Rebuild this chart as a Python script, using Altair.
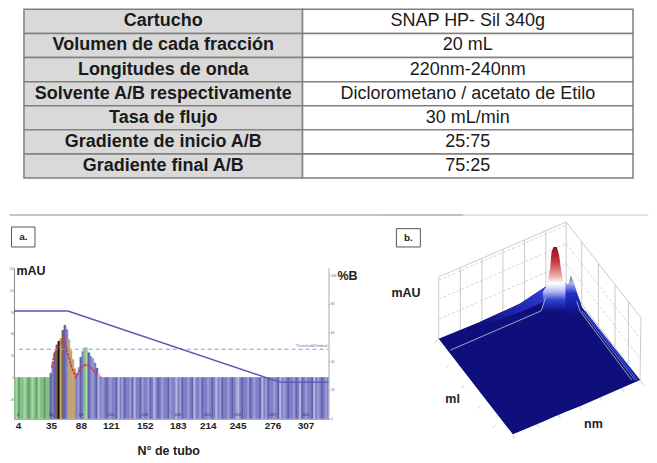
import altair as alt
import pandas as pd

FONT = "Liberation Sans"

# ---------- table ----------
row_labels = ["Cartucho", "Volumen de cada fracción", "Longitudes de onda",
              "Solvente A/B respectivamente", "Tasa de flujo",
              "Gradiente de inicio A/B", "Gradiente final A/B"]
row_values = ["SNAP HP- Sil 340g", "20 mL", "220nm-240nm",
              "Diclorometano / acetato de Etilo", "30 mL/min", "25:75", "75:25"]

# ---------- panel a ----------
signal_head = [0]*18 + [6, 20, 35, 45, 50, 54, 65, 72, 66, 52, 37, 25, 12, 6, 14, 28,
                        36, 41, 41, 34, 29, 26, 20, 13, 5, 1]
stripes = ("gldgglgdglgdlggdgg" "abanktnabtotobcabgl"
           "abcbaebcbabcbbaebcabbcaebbacbbcabebabcbbacbbebcabbcbaebbcabb"
           "cbabebcabbcbabcebabbcabcbbaebcabbcbaebcbabbcabe" "abcbbaebcbabcb")
STRIPE_COLORS = {"g": "#86c088", "l": "#a9d6a2", "d": "#5f9f6c",
                 "b": "#7e7ec6", "c": "#9a9ad6", "a": "#6262aa", "e": "#b6b6e2",
                 "k": "#111111", "t": "#b9a97a", "o": "#c99a6a", "n": "#7a6048"}
tick_pos = [4, 37, 67, 97, 131, 164, 194, 224, 259, 292]
tick_lab = ["4", "35", "88", "121", "152", "183", "214", "245", "276", "307"]
inner_lab = ["3", "36", "69", "102", "135", "168", "201", "234", "267", "300"]
red_x = [38, 40, 44, 50, 53, 58, 62, 67, 72, 77, 83]
red_y = [13, 31, 42, 54, 36, 13, 0, 13, 18, 14, 4]
grad_x = [0, 54, 255, 267, 315]
grad_b = [75, 75, 28, 25.5, 25.5]
threshold = 39
Y_DOM = [-56.7, 151]
B_DOM = [0, 105]
X_DOM = [0, 315]

n = 158
signal = signal_head + [0] * (n - len(signal_head))
bars = pd.DataFrame({"x": [2 * i for i in range(n)], "x2": [2 * i + 2 for i in range(n)],
                     "base": [Y_DOM[0]] * n, "s": signal, "c": list(stripes[:n])})

xs = alt.Scale(domain=X_DOM, nice=False, zero=False)
ys = alt.Scale(domain=Y_DOM, nice=False, zero=False)
bs = alt.Scale(domain=B_DOM, nice=False, zero=False)
one = pd.DataFrame({"t": [""]})

label_expr = "{" + ",".join(f"{p}:'{l}'" for p, l in zip(tick_pos, tick_lab)) + "}[datum.value]"
x_axis = alt.Axis(values=tick_pos, labelExpr=label_expr, title=None, grid=False,
                  labelFont=FONT, labelFontWeight="bold", labelFontSize=10, labelColor="#222222",
                  labelPadding=2, tickSize=0, domainColor="#888888", labelFlush=False,
                  labelOverlap=False)
left_axis = alt.Axis(values=[-30, 0, 30, 60, 90, 120, 150], title=None, grid=False, labelFont=FONT,
                     labelFontSize=2.8, labelColor="#666666", labelPadding=0, tickSize=0.5,
                     tickColor="#999999", domainColor="#888888")
right_axis = alt.Axis(values=[0, 20, 40, 60, 80, 100], orient="right", title=None, grid=False,
                      labelFont=FONT, labelFontSize=3.2, labelColor="#666666", labelPadding=1,
                      tickSize=1, tickColor="#999999", domainColor="#aaaaaa")


def note(text, x, y, size=12, weight="bold", color="#222222"):
    return alt.Chart(pd.DataFrame({"t": [text]})).mark_text(
        font=FONT, fontSize=size, fontWeight=weight, color=color).encode(
        x=alt.value(x), y=alt.value(y), text="t:N")


stripe_scale = alt.Scale(domain=list(STRIPE_COLORS), range=list(STRIPE_COLORS.values()))
bar_layer = alt.Chart(bars).mark_rect(strokeWidth=0.6, clip=True).encode(
    x=alt.X("x:Q", scale=xs, axis=x_axis), x2="x2:Q",
    y=alt.Y("base:Q", scale=ys, axis=left_axis), y2="s:Q",
    fill=alt.Fill("c:N", legend=None, scale=stripe_scale),
    stroke=alt.Stroke("c:N", legend=None, scale=stripe_scale))

thr_layer = alt.Chart(pd.DataFrame({"a": [5], "b": [315], "y": [threshold]})).mark_rule(
    color="#9a93cf", strokeDash=[4, 3], strokeWidth=1).encode(
    x=alt.X("a:Q", scale=xs, axis=x_axis), x2="b:Q", y=alt.Y("y:Q", scale=ys, axis=None))

red_layer = alt.Chart(pd.DataFrame({"x": red_x, "y": red_y})).mark_line(
    color="#d9323a", strokeWidth=1.6, strokeDash=[3, 1]).encode(
    x=alt.X("x:Q", scale=xs, axis=x_axis), y=alt.Y("y:Q", scale=ys, axis=None))

inner_layer = alt.Chart(pd.DataFrame({"x": tick_pos, "y": [-52] * 10, "t": inner_lab})).mark_text(
    font=FONT, fontSize=4, color="#33334d").encode(
    x=alt.X("x:Q", scale=xs, axis=x_axis), y=alt.Y("y:Q", scale=ys, axis=None), text="t:N")

thr_text = alt.Chart(pd.DataFrame({"x": [314], "y": [threshold + 1.5], "t": ["Threshold/Umbral"]})).mark_text(
    font=FONT, fontSize=4, color="#6a6ac0", align="right", baseline="bottom").encode(
    x=alt.X("x:Q", scale=xs, axis=x_axis), y=alt.Y("y:Q", scale=ys, axis=None), text="t:N")

grad_layer = alt.Chart(pd.DataFrame({"x": grad_x, "b": grad_b})).mark_line(
    color="#5656b8", strokeWidth=1.4).encode(
    x=alt.X("x:Q", scale=xs, axis=x_axis), y=alt.Y("b:Q", scale=bs, axis=right_axis))

frame_a = alt.Chart(one).mark_rule(color="#8a8a8a", strokeWidth=1).encode(
    x=alt.value(-4.5), x2=alt.value(450), y=alt.value(-53))
box_a = alt.Chart(one).mark_rect(fill="white", stroke="#555555", strokeWidth=1).encode(
    x=alt.value(-2.5), x2=alt.value(21), y=alt.value(-41), y2=alt.value(-21))

panel_a = alt.layer(
    bar_layer, thr_layer, red_layer, inner_layer, thr_text, grad_layer, frame_a, box_a,
    note("a.", 9.5, -31, 10), note("mAU", 17, 3, 12.5), note("%B", 334, 8, 12.5),
    note("N° de tubo", 155, 183, 12.5),
).resolve_scale(y="independent").properties(width=315, height=151)

# ---------- panel b: surface outline ----------
U = alt.Scale(domain=[30, 780], nice=False, zero=False)
V = alt.Scale(domain=[621, 168], nice=False, zero=False)

floor_u = [175, 300, 398, 420, 495, 520, 556, 590, 605, 780]
floor_top = [381, 330, 285, 275, 225, 215, 215, 250, 285, 505]
floor_low = [381, 542, 668, 659, 627, 616, 601, 587, 581, 505]

wedge_u = [300, 420, 495]
wedge_top = [330, 275, 225]
wedge_low = [345, 300, 268]

peak_u = [488, 500, 510, 514, 520, 530, 537, 543, 550, 558]
peak_top = [240, 220, 170, 120, 105, 105, 130, 175, 212, 218]
peak_low = [300] * 10

small_u = [556, 565, 572, 580, 590, 600, 606]
small_top = [218, 215, 190, 208, 240, 268, 288]
small_low = [310] * 7

wire = [  # u1, v1, u2, v2, dashed
    (175, 195, 558, 30, 0), (175, 195, 175, 381, 0), (558, 30, 558, 215, 0),
    (240, 167, 240, 353, 0), (305, 139, 305, 325, 0), (368, 112, 368, 298, 0),
    (433, 84, 433, 270, 0), (497, 56, 497, 242, 0),
    (175, 205, 558, 40, 1), (175, 262, 558, 95, 1), (175, 322, 558, 155, 1),
    (558, 30, 783, 318, 0), (783, 318, 780, 505, 0), (558, 215, 780, 505, 0),
    (605, 90, 605, 277, 0), (655, 155, 655, 340, 0), (705, 219, 705, 405, 0), (745, 270, 745, 455, 0),
    (558, 95, 783, 383, 1), (558, 155, 783, 443, 1),
    (175, 381, 162, 395, 0), (205, 459, 196, 468, 0), (252, 520, 243, 529, 0), (300, 581, 291, 590, 0),
    (346, 640, 337, 649, 0), (398, 668, 402, 680, 0),
    (470, 637, 476, 648, 0), (535, 609, 541, 620, 0), (597, 583, 603, 594, 0), (660, 556, 666, 567, 0),
    (725, 529, 731, 540, 0), (780, 505, 790, 520, 0),
    (0, 9, 805, 9, 0),
]
wire_df = pd.DataFrame(wire, columns=["u", "v", "u2", "v2", "dash"])

seams = [  # u1, v1, u2, v2, colour, width
    (210, 415, 483, 297, "#a8bccc", 0.9), (483, 297, 497, 255, "#a8bccc", 0.9),
    (590, 268, 600, 298, "#9fc0b0", 0.9), (600, 298, 755, 505, "#9fb8b0", 0.9),
    (605, 296, 765, 505, "#aab0e0", 0.7), (614, 298, 772, 505, "#2e46e8", 1.6),
]
seam_df = pd.DataFrame(seams, columns=["u", "v", "u2", "v2", "c", "w"])


def surface(us, tops, lows, color):
    return alt.Chart(pd.DataFrame({"u": us, "t": tops, "l": lows})).mark_area(color=color, line=False).encode(
        x=alt.X("u:Q", scale=U, axis=None), y=alt.Y("t:Q", scale=V, axis=None), y2="l:Q")


wire_solid = alt.Chart(wire_df[wire_df.dash == 0]).mark_rule(color="#bdbdbd", strokeWidth=0.8).encode(
    x=alt.X("u:Q", scale=U, axis=None), x2="u2:Q", y=alt.Y("v:Q", scale=V, axis=None), y2="v2:Q")
wire_dash = alt.Chart(wire_df[wire_df.dash == 1]).mark_rule(color="#c4c4c4", strokeWidth=0.7, strokeDash=[3, 2]).encode(
    x=alt.X("u:Q", scale=U, axis=None), x2="u2:Q", y=alt.Y("v:Q", scale=V, axis=None), y2="v2:Q")
seam_layer = alt.Chart(seam_df).mark_rule().encode(
    x=alt.X("u:Q", scale=U, axis=None), x2="u2:Q", y=alt.Y("v:Q", scale=V, axis=None), y2="v2:Q",
    color=alt.Color("c:N", scale=None), strokeWidth=alt.StrokeWidth("w:Q", scale=None))

floor = surface(floor_u, floor_top, floor_low, "#0e0e7c")
wedge = surface(wedge_u, wedge_top, wedge_low, alt.Gradient(
    gradient="linear", x1=1, y1=0, x2=0, y2=1,
    stops=[alt.GradientStop(offset=0, color="#3040d8"), alt.GradientStop(offset=1, color="#0e0e7c")]))
peak = surface(peak_u, peak_top, peak_low, alt.Gradient(
    gradient="linear", x1=0, y1=0, x2=0, y2=1,
    stops=[alt.GradientStop(offset=0, color="#8a1218"),
           alt.GradientStop(offset=0.23, color="#cc3a3e"),
           alt.GradientStop(offset=0.44, color="#eaa8a8"),
           alt.GradientStop(offset=0.56, color="#ffffff"),
           alt.GradientStop(offset=0.69, color="#b0b8f0"),
           alt.GradientStop(offset=0.82, color="#3040d0"),
           alt.GradientStop(offset=1, color="#0e0e7c")]))
small = surface(small_u, small_top, small_low, alt.Gradient(
    gradient="linear", x1=0, y1=0, x2=0, y2=1,
    stops=[alt.GradientStop(offset=0, color="#3f9f60"),
           alt.GradientStop(offset=0.2, color="#b0b4ee"),
           alt.GradientStop(offset=0.45, color="#2030c8"),
           alt.GradientStop(offset=1, color="#0e0e7c")]))

box_b = alt.Chart(pd.DataFrame({"u": [48], "u2": [120], "v": [50], "v2": [105]})).mark_rect(
    fill="white", stroke="#555555", strokeWidth=1).encode(
    x=alt.X("u:Q", scale=U, axis=None), x2="u2:Q", y=alt.Y("v:Q", scale=V, axis=None), y2="v2:Q")
labels_b = alt.Chart(pd.DataFrame({"u": [84, 77, 217, 640], "v": [78, 242, 562, 638],
                                   "t": ["b.", "mAU", "ml", "nm"], "s": [10, 12.5, 12.5, 12.5]})).mark_text(
    font=FONT, fontWeight="bold", color="#222222").encode(
    x=alt.X("u:Q", scale=U, axis=None), y=alt.Y("v:Q", scale=V, axis=None), text="t:N",
    size=alt.Size("s:Q", scale=None))

panel_b = alt.layer(wire_solid, wire_dash, floor, wedge, peak, small, seam_layer, box_b, labels_b).properties(
    width=250, height=151)

# ---------- table assembly ----------
def column(labels, fill, weight, w, size):
    df = pd.DataFrame({"r": labels})
    yb = alt.Y("r:N", sort=None, axis=None, scale=alt.Scale(paddingInner=0, paddingOuter=0))
    cells = alt.Chart(df).mark_rect(fill=fill, stroke="#7f7f7f", strokeWidth=1.5).encode(y=yb)
    text = alt.Chart(df).mark_text(font=FONT, fontSize=size, fontWeight=weight, color="#1a1a1a").encode(
        x=alt.value(w / 2), y=yb, text="r:N")
    return alt.layer(cells, text).properties(width=w, height=169)


spacer = alt.Chart(one).mark_rule(opacity=0).encode(x=alt.value(0)).properties(width=10, height=169)
top = alt.hconcat(spacer, column(row_labels, "#d9d9d9", "bold", 279, 18),
                  column(row_values, "#ffffff", "normal", 331, 18), spacing=0, bounds="flush")
bottom = alt.hconcat(panel_a, panel_b, spacing=62, bounds="flush").resolve_scale(
    x="independent", y="independent", color="independent", fill="independent", stroke="independent")

chart = alt.vconcat(top, bottom, spacing=35).resolve_scale(color="independent").configure_view(stroke=None).properties(
    padding=0, background="white")

chart.save("out.html", embed_options={"renderer": "svg", "actions": False})
